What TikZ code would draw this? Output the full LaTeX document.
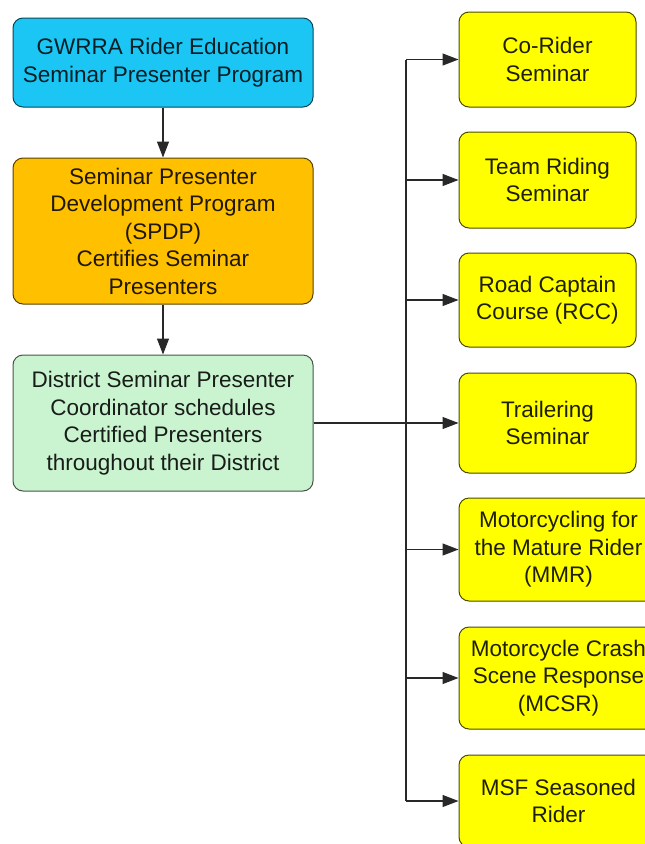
\documentclass[tikz,border=0pt]{standalone}
\usepackage{fontspec}
\setmainfont{Liberation Sans}
\usetikzlibrary{arrows.meta,calc}
\definecolor{ProgClr}{RGB}{28,198,244}
\definecolor{SpdpClr}{RGB}{255,192,0}
\definecolor{DistClr}{RGB}{202,244,208}
\definecolor{CourseClr}{RGB}{255,255,0}
\definecolor{LineClr}{RGB}{40,40,40}

\begin{document}
\begin{tikzpicture}[x=1pt,y=-1pt,
  box/.style={draw,rounded corners=10pt,line width=1pt,align=center,inner sep=0pt,
    font=\fontsize{22.5}{27.5}\selectfont},
  main/.style={box,minimum width=300pt},
  course/.style={box,fill=CourseClr,draw=CourseClr!30!black,text=CourseClr!12!black,
    minimum width=177pt},
  widecourse/.style={course,minimum width=199pt},
  link/.style={draw=LineClr,line width=1.2pt},
  arr/.style={link,-{Triangle[length=16pt,width=12pt]}}]
\clip (0,0) rectangle (645,844);
\fill[white] (0,0) rectangle (645,844);

\node[main,fill=ProgClr,draw=ProgClr!35!black,text=ProgClr!15!black,minimum height=89pt]
  (prog) at (163,62.5) {GWRRA Rider Education\\Seminar Presenter Program};
\node[main,fill=SpdpClr,draw=SpdpClr!35!black,text=SpdpClr!12!black,minimum height=146pt]
  (spdp) at (163,231) {Seminar Presenter\\Development Program\\(SPDP)\\Certifies Seminar\\Presenters};
\node[main,fill=DistClr,draw=DistClr!35!black,text=DistClr!12!black,minimum height=136pt]
  (dist) at (163,423) {District Seminar Presenter\\Coordinator schedules\\Certified Presenters\\throughout their District};

\node[course,minimum height=95pt] (corider) at (547.5,59.5) {Co-Rider\\Seminar};
\node[course,minimum height=96pt] (team) at (547.5,180) {Team Riding\\Seminar};
\node[course,minimum height=94pt] (rcc) at (547.5,300) {Road Captain\\Course (RCC)};
\node[course,minimum height=100pt] (trailer) at (547.5,423) {Trailering\\Seminar};
\node[widecourse,minimum height=103pt] (mmr) at (558.5,549.5) {Motorcycling for\\the Mature Rider\\(MMR)};
\node[widecourse,minimum height=102pt] (mcsr) at (558.5,678) {Motorcycle Crash\\Scene Response\\(MCSR)};
\node[widecourse,minimum height=92pt] (msf) at (558.5,801) {MSF Seasoned\\Rider};

\coordinate (trunk) at (406,0);

\draw[arr] (prog) -- (spdp);
\draw[arr] (spdp) -- (dist);
\draw[arr] (dist) -- (trailer);
\draw[link] (corider.west -| trunk) -- (msf.west -| trunk);
\foreach \crs in {corider,team,rcc,mmr,mcsr,msf}
  \draw[arr] (\crs.west -| trunk) -- (\crs.west);

\end{tikzpicture}
\end{document}
